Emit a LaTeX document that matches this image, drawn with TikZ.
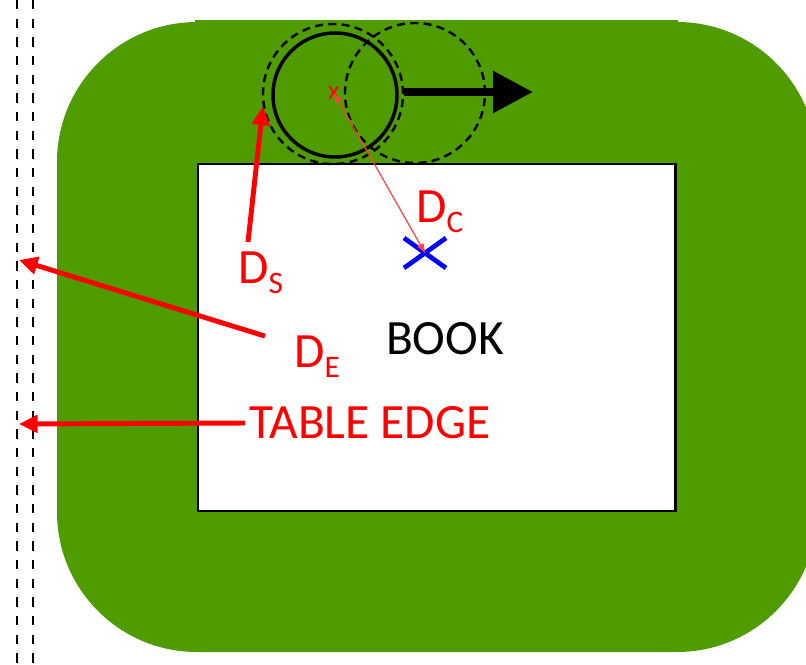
\documentclass[tikz,border=0pt]{standalone}
\usepackage{fontspec}
\setmainfont{Carlito}
\usetikzlibrary{arrows.meta,positioning}
\definecolor{tablegreen}{RGB}{78,156,0}
\definecolor{labelred}  {RGB}{255,0,0}
\definecolor{markblue}  {RGB}{0,0,255}
\newcommand{\dlabel}[1]{D\raisebox{-8pt}{\fontsize{23.5}{25}\selectfont #1}}

\begin{document}
\begin{tikzpicture}[
      x=0.75pt, y=-0.75pt,
      every node/.style={inner sep=0pt},
      lbl/.style={text=labelred, font=\fontsize{37}{40}\selectfont},
      redarr/.style={-{Triangle[length=14pt,width=13pt]}, line width=3.7pt, color=labelred},
      thinarr/.style={{Triangle[length=7pt,width=5pt]}-{Triangle[length=7pt,width=5pt]}, line width=0.9pt, color=labelred!75},
      edgeline/.style={line width=1.8pt, dash pattern=on 7pt off 7pt},
      ghost/.style={circle, draw, line width=1.8pt, dash pattern=on 6pt off 4pt, minimum size=105pt},
    ]
    \useasboundingbox (0,0) rectangle (806,664);

    % ── TABLE ───────────────────────────────────────────────────
    \fill[tablegreen, rounded corners=105pt] (57,22) rectangle (817,652);
    \fill[tablegreen] (195,20) rectangle (678,651);

    \draw[edgeline] (17,0) -- (17,664);
    \draw[edgeline] (33,0) -- (33,664);
    \coordinate (edgehi) at (19,260);
    \coordinate (edgelo) at (19,424);

    % ── BOOK ────────────────────────────────────────────────────
    \node[draw, fill=white, line width=1.8pt, minimum width=358pt, minimum height=260pt,
      anchor=north west] (book) at (197,163) {};
    \node[font=\fontsize{37}{40}\selectfont] (booktxt) at (445,339) {BOOK};

    % ── CUP AND PUSH ────────────────────────────────────────────
    \node[ghost] (ghostA) at (333,94) {};
    \node[ghost] (ghostB) at (415,93) {};
    \node[circle, draw, line width=2.6pt, minimum size=93pt] (cup) at (335,95) {};
    \coordinate (pushend) at (533,92);
    \draw[line width=6.5pt, -{Triangle[length=30pt,width=30pt]}] (ghostA.east |- pushend) -- (pushend);

    \node[text=labelred, font=\fontsize{20}{22}\selectfont] (cupx) at (334,93) {x};

    \coordinate (centroid) at (425,253);
    \draw[markblue, line width=3.5pt] (centroid) ++(-21,-15) -- ++(42,30);
    \draw[markblue, line width=3.5pt] (centroid) ++(-21,15) -- ++(42,-30);

    % ── LABELS ──────────────────────────────────────────────────
    \node[lbl, anchor=base west] (dc) at (416,222) {\dlabel{C}};
    \node[lbl, anchor=base west] (ds) at (238,283) {\dlabel{S}};
    \node[lbl, anchor=base west] (de) at (294,367) {\dlabel{E}};
    \node[lbl, anchor=west, inner sep=3pt] (tedge) at (245,423) {TABLE EDGE};

    \draw[thinarr] (cupx.center) -- (centroid);
    \draw[redarr] ([shift={(10,-9)}]ds.north west) -- (ghostA.190);
    \draw[redarr] ([shift={(-29,1)}]de.north west) -- (edgehi);
    \draw[redarr] (tedge.west) -- (edgelo);
\end{tikzpicture}
\end{document}
